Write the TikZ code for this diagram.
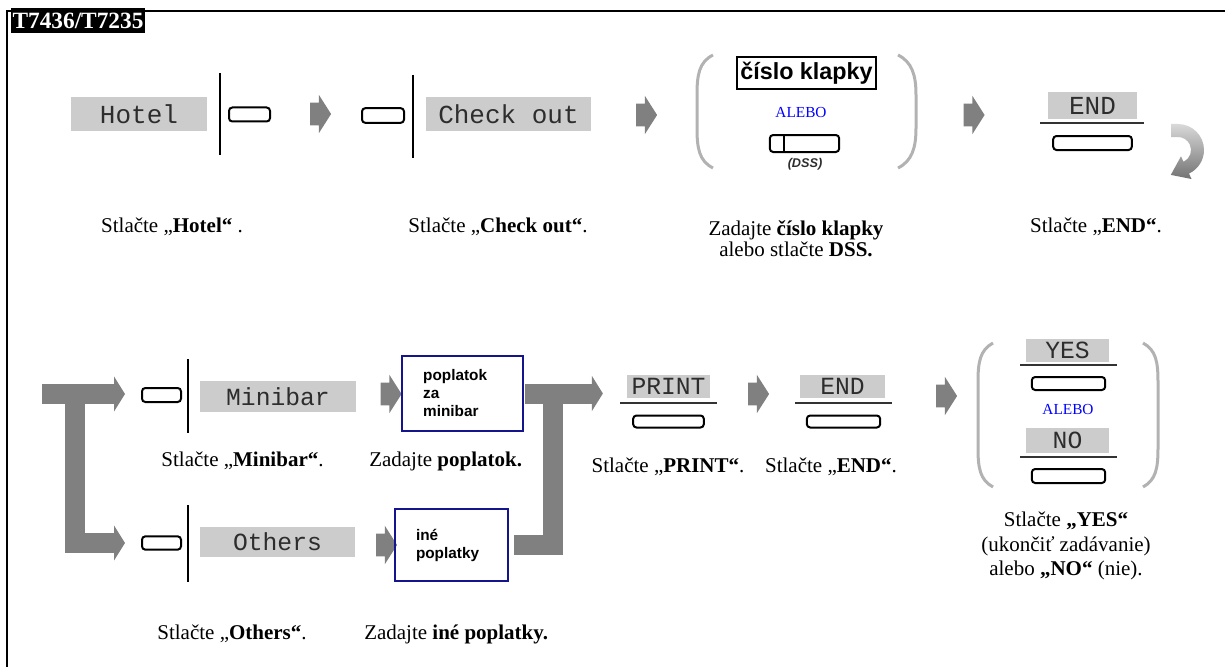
\documentclass[tikz,border=0pt]{standalone}
\usepackage{fontspec}
\setmainfont{Liberation Serif}
\setsansfont{Liberation Sans}
\setmonofont{Liberation Mono}
\usepackage{tikz}
\usetikzlibrary{shapes.arrows,arrows.meta}
\definecolor{keygray}{RGB}{204,204,204}
\definecolor{arrowgray}{RGB}{128,128,128}
\definecolor{bracegray}{RGB}{178,178,178}
\definecolor{boxblue}{RGB}{20,20,140}
\definecolor{textgray}{RGB}{45,45,45}
\def\capfont{\fontsize{15.75}{16}\selectfont}
\def\bigtt{\fontsize{19.5}{20}\selectfont\ttfamily}
\def\labelnode{\node[fill=keygray,inner sep=0,text=textgray,font=\fontsize{18.5}{20}\selectfont\ttfamily]}
\def\keynode{\node[draw=black,line width=1.5pt,rounded corners=2.5pt,inner sep=0]}
\def\gonode{\node[single arrow,fill=arrowgray,inner xsep=0,inner ysep=8.25pt,minimum height=15.75pt,single arrow head extend=6pt,single arrow tip angle=115]}
\def\capnode{\node[font=\capfont,align=center,inner sep=0]}
\def\feenode{\node[draw=boxblue,line width=1.5pt,align=left,inner ysep=0,font=\sffamily\bfseries\fontsize{11.5}{13.5}\selectfont]}
\def\drawbrace{\draw[bracegray,line width=2.25pt]}

\begin{document}
\begin{tikzpicture}[x=0.75pt,y=-0.75pt,inner sep=1mm,
  trunk/.style={arrowgray,line width=15pt},
  fork/.style={-{Triangle[width=26pt,length=8.25pt]}},
  rule/.style={black!80,line width=0.9pt}]
\useasboundingbox (0,0) rectangle (1225,667);
\draw[line width=1.5pt] (7,667) -- (7,11) -- (1225,11);
\node[fill=black,text=white,font=\bfseries\fontsize{17.5}{18}\selectfont,minimum width=101pt,minimum height=18.75pt,inner sep=0] (model) at (78,21) {T7436/T7235};

% check out of a room
\labelnode[font=\bigtt,minimum width=102pt,minimum height=25.5pt] (hotel) at (139,114) {Hotel};
\draw[line width=1.5pt] (220,73) -- (220,155);
\keynode[minimum width=30.75pt,minimum height=10.5pt] (hotelkey) at (249.5,114.5) {};
\gonode (go1) at (317,114) {};
\keynode[minimum width=31.5pt,minimum height=11pt] (checkkey) at (383,115.5) {};
\draw[line width=1.5pt] (413,75) -- (413,158);
\labelnode[font=\bigtt,minimum width=124pt,minimum height=25.5pt] (checkout) at (508.5,114) {Check out};
\gonode (go2) at (643,115) {};
\drawbrace (713,55) .. controls (699,62) and (697,75) .. (697,95) -- (697,128) .. controls (697,148) and (699,161) .. (713,168);
\drawbrace (898,55) .. controls (912,62) and (916,75) .. (916,95) -- (916,128) .. controls (916,148) and (912,161) .. (898,168);
\node[draw,line width=1.5pt,font=\sffamily\bfseries\fontsize{17.5}{18}\selectfont,minimum width=104pt,minimum height=24pt,inner sep=1pt] (ext) at (806.5,73) {číslo klapky};
\node[font=\fontsize{11.5}{12}\selectfont,text=blue,inner sep=0] (or1) at (801,112) {ALEBO};
\keynode[minimum width=52pt,minimum height=12.75pt] (dss) at (804.5,143.5) {};
\draw[line width=1.2pt] ([xshift=11.25pt]dss.north west) -- ([xshift=11.25pt]dss.south west);
\node[font=\sffamily\bfseries\itshape\fontsize{9.5}{10}\selectfont,text=textgray,inner sep=0] (dssname) at (805,164) {(DSS)};
\gonode (go3) at (970.5,115) {};
\labelnode[font=\bigtt,minimum width=67pt,minimum height=20pt] (end1) at (1092.5,105.5) {END};
\draw[rule] (1040,123) -- (1144,123);
\keynode[minimum width=59pt,minimum height=10.5pt] (endkey1) at (1092.5,143) {};
\shade[top color=black!15,bottom color=black!55] (1171,124) -- (1178,124) arc[start angle=-90,end angle=65,radius=26] -- (1191.5,179) -- (1170.8,174.9) -- (1181,156.3) -- (1183.5,161.8) arc[start angle=65,end angle=-90,radius=13] -- (1171,137) -- cycle;

\capnode (c1) at (172,227) {Stlačte „\textbf{Hotel“} .};
\capnode (c2) at (498,227) {Stlačte „\textbf{Check out“}.};
\capnode (c3) at (796,239) {Zadajte \textbf{číslo klapky}\\alebo stlačte \textbf{DSS.}};
\capnode (c4) at (1096,227) {Stlačte „\textbf{END“}.};

% charges
\keynode[minimum width=29.25pt,minimum height=10.5pt] (minikey) at (161.5,395) {};
\draw[line width=1.5pt] (188,359) -- (188,433);
\labelnode[minimum width=117pt,minimum height=23.25pt] (minibar) at (278,396.5) {Minibar};
\gonode (go4) at (387.5,394) {};
\feenode[text width=59pt,inner xsep=15.75pt,minimum height=56pt] (feeA) at (462.5,393.5) {poplatok\\za\\minibar};

\keynode[minimum width=29.25pt,minimum height=10pt] (otherkey) at (161.5,543) {};
\draw[line width=1.5pt] (188,505) -- (188,582);
\labelnode[minimum width=116pt,minimum height=22.5pt] (others) at (277.5,542) {Others};
\gonode (go7) at (383,545) {};
\feenode[text width=53.25pt,inner xsep=15.75pt,minimum height=54pt] (feeB) at (451.5,545) {iné\\poplatky};

\coordinate (entry) at (42,394);
\coordinate (stemL) at (75,394);
\draw[trunk,fork,shorten >=12pt] (entry) -- (entry -| minikey.west);
\draw[trunk,fork,shorten >=12pt] (stemL) |- (otherkey.west);

\labelnode[minimum width=62pt,minimum height=17.25pt] (print) at (668.5,386.5) {PRINT};
\draw[rule] (620,403) -- (717,403);
\keynode[minimum width=53pt,minimum height=9pt] (printkey) at (668.5,421.5) {};
\gonode (go5) at (755,394) {};
\labelnode[minimum width=64pt,minimum height=17.25pt] (end2) at (842.5,386.5) {END};
\draw[rule] (795,403) -- (892,403);
\keynode[minimum width=55pt,minimum height=9pt] (endkey2) at (843.5,421.5) {};

\coordinate (stemR) at (553,393.5);
\draw[trunk,fork,shorten <=0.75pt,shorten >=18pt] (feeA.east) -- (feeA.east -| print.west);
\draw[trunk,shorten <=4pt] (feeB.east) -| (stemR);

\gonode (go6) at (943,396) {};
\drawbrace (993,343) .. controls (980,350) and (978,362) .. (978,382) -- (978,448) .. controls (978,468) and (980,480) .. (993,487);
\drawbrace (1143,343) .. controls (1156,350) and (1158,362) .. (1158,382) -- (1158,448) .. controls (1158,468) and (1156,480) .. (1143,487);
\labelnode[minimum width=62pt,minimum height=17.25pt] (yes) at (1067.5,350) {YES};
\draw[rule] (1020,365) -- (1117,365);
\keynode[minimum width=55pt,minimum height=9.75pt] (yeskey) at (1068.5,383.5) {};
\node[font=\fontsize{11.5}{12}\selectfont,text=blue,inner sep=0] (or2) at (1068,409) {ALEBO};
\labelnode[minimum width=62pt,minimum height=18.75pt] (no) at (1067.5,440.5) {NO};
\draw[rule] (1020,457) -- (1117,457);
\keynode[minimum width=55pt,minimum height=10.5pt] (nokey) at (1068.5,476) {};

\capnode (c5) at (242.5,461) {Stlačte „\textbf{Minibar“}.};
\capnode[anchor=west] (c6) at (369,461) {Zadajte \textbf{poplatok.}};
\capnode (c7) at (668,467) {Stlačte „\textbf{PRINT“}.};
\capnode (c8) at (831,467) {Stlačte „\textbf{END“}.};
\capnode[font=\fontsize{15.75}{18.4}\selectfont] (c9) at (1066,546) {Stlačte \textbf{„YES“}\\(ukončiť zadávanie)\\alebo \textbf{„NO“} (nie).};
\capnode (c10) at (232,634) {Stlačte „\textbf{Others“}.};
\capnode[anchor=west] (c11) at (364,634) {Zadajte \textbf{iné poplatky.}};
\end{tikzpicture}
\end{document}
